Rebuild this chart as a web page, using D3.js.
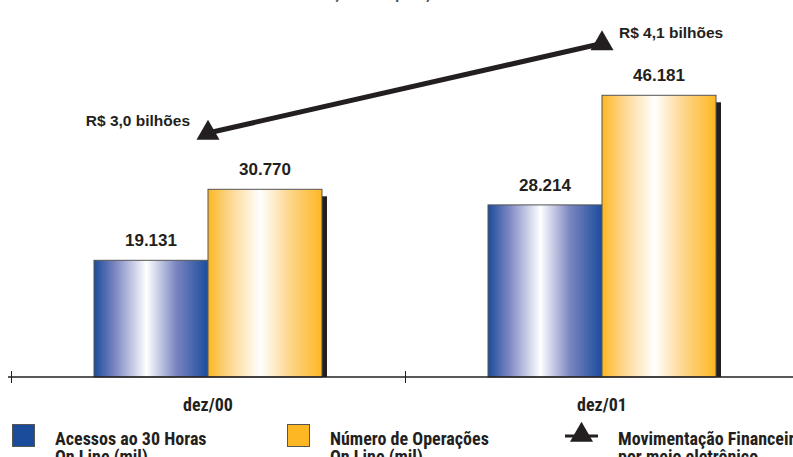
<!DOCTYPE html>
<html>
<head>
<meta charset="utf-8">
<script src="https://cdn.jsdelivr.net/npm/d3@7"></script>
<style>
  html, body { margin: 0; padding: 0; background: #fff; }
  svg { display: block; }
</style>
</head>
<body>
<svg id="chart" width="793" height="457"></svg>
<script>
// Online banking figures by year-end
const categories = ["dez/00", "dez/01"];
const acessos = [19131, 28214];          // Acessos ao 30 Horas On Line (mil)
const operacoes = [30770, 46181];        // Número de Operações On Line (mil)
const movimentacao = [3.0, 4.1];         // Movimentação financeira (R$ bilhões)
const movimentacaoLabels = ["R$ 3,0 bilhões", "R$ 4,1 bilhões"];
const barLabels = [["19.131", "30.770"], ["28.214", "46.181"]];
const titleText = "Evolução das Operações On Line";
const legendItems = [
  ["Acessos ao 30 Horas", "On Line (mil)"],
  ["Número de Operações", "On Line (mil)"],
  ["Movimentação Financeira", "por meio eletrônico"]
];

const svg = d3.select("#chart");
const baseY = 377;
const ink = "#231f20";
const narrow = "'Liberation Sans Narrow', 'Roboto Condensed', 'Liberation Sans', sans-serif";
const bold = "'Liberation Sans', Arial, sans-serif";

// Scales
const x = d3.scaleBand().domain(categories).range([11, 799]);
const xSub = d3.scaleBand().domain(["acessos", "operacoes"])
  .range([0, x.bandwidth()]).paddingInner(0).paddingOuter(0.728);
const y = d3.scaleLinear().domain([0, 50000]).range([baseY, 72]);
const y2 = d3.scaleLinear().domain([0, 3.75]).range([baseY, 72]);

// Gradients
const defs = svg.append("defs");
function gradient(id, edge, mid) {
  const g = defs.append("linearGradient").attr("id", id)
    .attr("x1", "0%").attr("x2", "100%").attr("y1", "0%").attr("y2", "0%");
  [[0, edge], [0.18, mid], [0.46, "#ffffff"], [0.72, mid], [1, edge]].forEach(([o, c]) =>
    g.append("stop").attr("offset", o).attr("stop-color", c));
}
gradient("gBlue", "#1b4c9c", "#7a85c0");
gradient("gYellow", "#fdb722", "#fdd58a");

// Title (runs off the top edge)
svg.append("text").attr("x", 402).attr("y", -1)
  .attr("text-anchor", "middle")
  .style("font-family", narrow).style("font-weight", "bold").style("font-size", "16px")
  .attr("fill", "#555").text(titleText);

// Bars
const groups = svg.selectAll("g.cat").data(categories).join("g")
  .attr("class", "cat").attr("transform", d => `translate(${x(d)},0)`);

// Shadows behind the taller bars
groups.append("rect")
  .attr("x", (d, i) => xSub("operacoes") + xSub.bandwidth())
  .attr("y", (d, i) => y(operacoes[i]) + 7)
  .attr("width", 5)
  .attr("height", (d, i) => baseY - y(operacoes[i]) - 7)
  .attr("fill", ink);

groups.append("rect")
  .attr("x", xSub("acessos"))
  .attr("y", (d, i) => y(acessos[i]))
  .attr("width", xSub.bandwidth())
  .attr("height", (d, i) => baseY - y(acessos[i]))
  .attr("fill", "url(#gBlue)").attr("stroke", "#555").attr("stroke-width", 1);

groups.append("rect")
  .attr("x", xSub("operacoes"))
  .attr("y", (d, i) => y(operacoes[i]))
  .attr("width", xSub.bandwidth())
  .attr("height", (d, i) => baseY - y(operacoes[i]))
  .attr("fill", "url(#gYellow)").attr("stroke", "#555").attr("stroke-width", 1);

// Bar value labels
groups.append("text")
  .attr("x", xSub("acessos") + xSub.bandwidth() / 2)
  .attr("y", (d, i) => y(acessos[i]) - 14)
  .attr("text-anchor", "middle")
  .style("font-family", bold).style("font-weight", "bold").style("font-size", "17px")
  .attr("fill", ink).text((d, i) => barLabels[i][0]);

groups.append("text")
  .attr("x", xSub("operacoes") + xSub.bandwidth() / 2)
  .attr("y", (d, i) => y(operacoes[i]) - 14)
  .attr("text-anchor", "middle")
  .style("font-family", bold).style("font-weight", "bold").style("font-size", "17px")
  .attr("fill", ink).text((d, i) => barLabels[i][1]);

// Axis line with ticks at category boundaries
svg.append("line").attr("x1", 8).attr("x2", 793).attr("y1", baseY).attr("y2", baseY)
  .attr("stroke", ink).attr("stroke-width", 1.3);
svg.selectAll("line.tick").data(categories).join("line").attr("class", "tick")
  .attr("x1", d => x(d) + 0.5).attr("x2", d => x(d) + 0.5)
  .attr("y1", baseY - 6).attr("y2", baseY + 6)
  .attr("stroke", ink).attr("stroke-width", 1);

svg.selectAll("text.cat").data(categories).join("text").attr("class", "cat")
  .attr("x", d => x(d) + xSub("operacoes"))
  .attr("y", 411)
  .attr("text-anchor", "middle")
  .style("font-family", narrow).style("font-weight", "bold").style("font-size", "18px")
  .attr("fill", ink).text(d => d);

// Financial movement line with triangle markers
const pts = categories.map((c, i) => [x(c) + xSub("operacoes"), y2(movimentacao[i])]);
svg.append("path")
  .attr("d", d3.line()(pts))
  .attr("fill", "none").attr("stroke", ink).attr("stroke-width", 5);

const tri = d3.symbol().type(d3.symbolTriangle).size(230);
svg.selectAll("path.tri").data(pts).join("path").attr("class", "tri")
  .attr("d", tri)
  .attr("transform", d => `translate(${d[0]},${d[1]})`)
  .attr("fill", ink);

// Line value labels
svg.append("text").attr("x", pts[0][0] - 18).attr("y", pts[0][1] - 7)
  .attr("text-anchor", "end")
  .style("font-family", bold).style("font-weight", "bold").style("font-size", "15.5px")
  .attr("fill", ink).text(movimentacaoLabels[0]);
svg.append("text").attr("x", pts[1][0] + 17).attr("y", pts[1][1] - 6)
  .attr("text-anchor", "start")
  .style("font-family", bold).style("font-weight", "bold").style("font-size", "15.5px")
  .attr("fill", ink).text(movimentacaoLabels[1]);

// Legend
const legendX = [12, 287, 565];
const lg = svg.selectAll("g.legend").data(legendItems).join("g").attr("class", "legend")
  .attr("transform", (d, i) => `translate(${legendX[i]},424)`);

lg.filter((d, i) => i < 2).append("rect")
  .attr("x", 0.5).attr("y", 0.5).attr("width", 22).attr("height", 22)
  .attr("fill", (d, i) => i === 0 ? "#1b4c9c" : "#fdb722")
  .attr("stroke", "#555").attr("stroke-width", 1);

const lgLine = lg.filter((d, i) => i === 2);
lgLine.append("line").attr("x1", 0).attr("x2", 33).attr("y1", 12).attr("y2", 12)
  .attr("stroke", ink).attr("stroke-width", 3);
lgLine.append("path").attr("d", tri).attr("transform", "translate(16.5,11)").attr("fill", ink);

lg.append("text")
  .attr("x", (d, i) => i === 2 ? 53 : 43)
  .attr("y", 21)
  .style("font-family", narrow).style("font-weight", "bold").style("font-size", "18px")
  .attr("fill", ink)
  .selectAll("tspan").data(d => d).join("tspan")
  .attr("x", function() { return d3.select(this.parentNode).attr("x"); })
  .attr("dy", (d, i) => i === 0 ? 0 : 18)
  .text(d => d);
</script>
</body>
</html>
